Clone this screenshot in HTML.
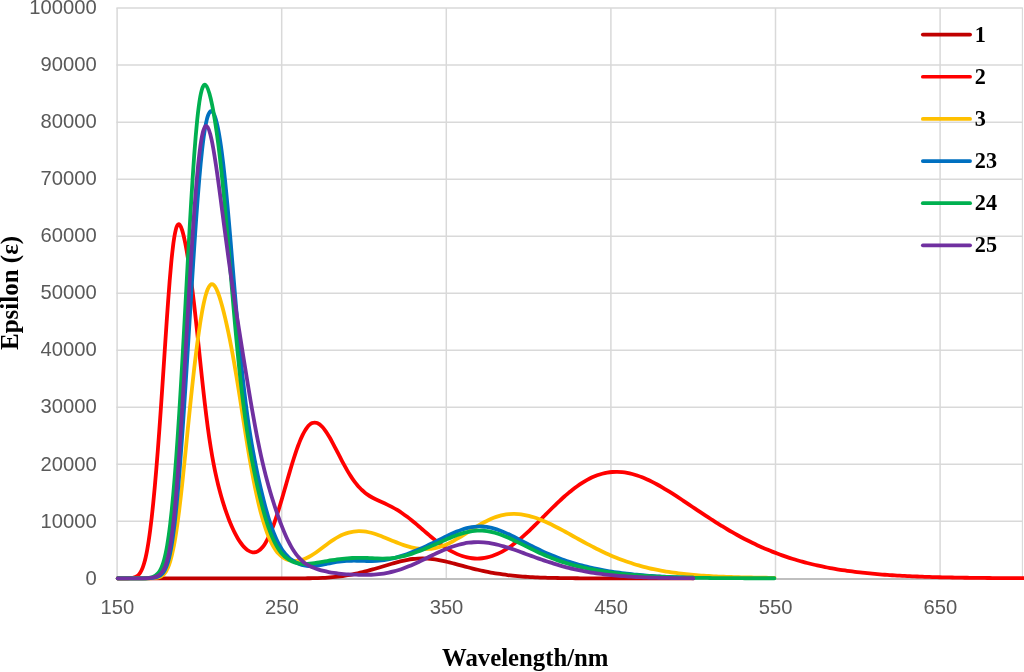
<!DOCTYPE html>
<html lang="en">
<head>
<meta charset="utf-8">
<title>Epsilon vs Wavelength</title>
<style>
html, body { margin: 0; padding: 0; background: #ffffff; }
body { width: 1024px; height: 672px; overflow: hidden; }
svg { display: block; will-change: transform; }
</style>
</head>
<body>
<svg width="1024" height="672" viewBox="0 0 1024 672">
<g stroke="#D9D9D9" stroke-width="1.5" fill="none">
<line x1="116.40" y1="521.28" x2="1022.90" y2="521.28"/>
<line x1="116.40" y1="464.26" x2="1022.90" y2="464.26"/>
<line x1="116.40" y1="407.24" x2="1022.90" y2="407.24"/>
<line x1="116.40" y1="350.22" x2="1022.90" y2="350.22"/>
<line x1="116.40" y1="293.20" x2="1022.90" y2="293.20"/>
<line x1="116.40" y1="236.18" x2="1022.90" y2="236.18"/>
<line x1="116.40" y1="179.16" x2="1022.90" y2="179.16"/>
<line x1="116.40" y1="122.14" x2="1022.90" y2="122.14"/>
<line x1="116.40" y1="65.12" x2="1022.90" y2="65.12"/>
<line x1="116.40" y1="8.10" x2="1022.90" y2="8.10"/>
<line x1="117.10" y1="8.10" x2="117.10" y2="579.00"/>
<line x1="281.70" y1="8.10" x2="281.70" y2="579.00"/>
<line x1="446.30" y1="8.10" x2="446.30" y2="579.00"/>
<line x1="610.90" y1="8.10" x2="610.90" y2="579.00"/>
<line x1="775.50" y1="8.10" x2="775.50" y2="579.00"/>
<line x1="940.10" y1="8.10" x2="940.10" y2="579.00"/>
<line x1="1022.40" y1="8.10" x2="1022.40" y2="579.00" stroke-width="1.1"/>
<line x1="116.40" y1="579.00" x2="1022.90" y2="579.00" stroke="#BFBFBF" stroke-width="2"/>
</g>
<g font-family="'Liberation Sans', Arial, sans-serif" font-size="20.2px" fill="#595959">
<text x="96.7" y="584.80" text-anchor="end">0</text>
<text x="96.7" y="527.68" text-anchor="end">10000</text>
<text x="96.7" y="470.56" text-anchor="end">20000</text>
<text x="96.7" y="413.44" text-anchor="end">30000</text>
<text x="96.7" y="356.32" text-anchor="end">40000</text>
<text x="96.7" y="299.20" text-anchor="end">50000</text>
<text x="96.7" y="242.08" text-anchor="end">60000</text>
<text x="96.7" y="184.96" text-anchor="end">70000</text>
<text x="96.7" y="127.84" text-anchor="end">80000</text>
<text x="96.7" y="70.72" text-anchor="end">90000</text>
<text x="96.7" y="13.60" text-anchor="end">100000</text>
<text x="117.30" y="613.8" text-anchor="middle">150</text>
<text x="281.90" y="613.8" text-anchor="middle">250</text>
<text x="446.50" y="613.8" text-anchor="middle">350</text>
<text x="611.10" y="613.8" text-anchor="middle">450</text>
<text x="775.70" y="613.8" text-anchor="middle">550</text>
<text x="940.30" y="613.8" text-anchor="middle">650</text>
</g>
<g fill="none" stroke-width="3.8" stroke-linecap="round" stroke-linejoin="round">
<path stroke="#C00000" d="M117.70 578.40C119.37 578.40 121.03 578.40 122.70 578.40C124.37 578.40 126.03 578.40 127.70 578.40C129.37 578.40 131.03 578.40 132.70 578.40C134.37 578.40 136.03 578.40 137.70 578.40C139.37 578.40 141.03 578.40 142.70 578.40C144.37 578.40 146.03 578.40 147.70 578.40C149.37 578.40 151.03 578.40 152.70 578.40C154.37 578.40 156.03 578.40 157.70 578.40C159.37 578.40 161.03 578.40 162.70 578.40C164.37 578.40 166.03 578.40 167.70 578.40C169.37 578.40 171.03 578.40 172.70 578.40C174.37 578.40 176.03 578.40 177.70 578.40C179.37 578.40 181.03 578.40 182.70 578.40C184.37 578.40 186.03 578.40 187.70 578.40C189.37 578.40 191.03 578.40 192.70 578.40C194.37 578.40 196.03 578.40 197.70 578.40C199.37 578.40 201.03 578.40 202.70 578.40C204.37 578.40 206.03 578.40 207.70 578.40C209.37 578.40 211.03 578.40 212.70 578.40C214.37 578.40 216.03 578.40 217.70 578.40C219.37 578.40 221.03 578.40 222.70 578.40C224.37 578.40 226.03 578.40 227.70 578.40C229.37 578.40 231.03 578.40 232.70 578.40C234.37 578.40 236.03 578.40 237.70 578.40C239.37 578.40 241.03 578.40 242.70 578.40C244.37 578.40 246.03 578.40 247.70 578.40C249.37 578.40 251.03 578.40 252.70 578.40C254.37 578.40 256.03 578.40 257.70 578.40C259.37 578.40 261.03 578.40 262.70 578.40C264.37 578.40 266.03 578.40 267.70 578.39C269.37 578.39 271.03 578.39 272.70 578.39C274.37 578.39 276.03 578.38 277.70 578.38C279.37 578.38 281.03 578.38 282.70 578.37C284.37 578.37 286.03 578.36 287.70 578.36C289.37 578.35 291.03 578.35 292.70 578.34C294.37 578.34 296.03 578.33 297.70 578.32C299.37 578.31 301.03 578.31 302.70 578.30C304.37 578.28 306.03 578.27 307.70 578.25C309.37 578.24 311.03 578.22 312.70 578.19C314.37 578.16 316.03 578.12 317.70 578.07C319.37 578.03 321.03 577.97 322.70 577.89C324.37 577.82 326.03 577.73 327.70 577.62C329.37 577.51 331.03 577.38 332.70 577.23C334.37 577.08 336.03 576.91 337.70 576.71C339.37 576.51 341.03 576.29 342.70 576.05C344.37 575.81 346.03 575.54 347.70 575.25C349.37 574.96 351.03 574.65 352.70 574.32C354.37 573.98 356.03 573.63 357.70 573.26C359.37 572.89 361.03 572.50 362.70 572.09C364.37 571.68 366.03 571.26 367.70 570.82C369.37 570.38 371.03 569.92 372.70 569.45C374.37 568.98 376.03 568.50 377.70 568.00C379.37 567.51 381.03 567.01 382.70 566.50C384.37 565.99 386.03 565.48 387.70 564.97C389.37 564.47 391.03 563.96 392.70 563.47C394.37 562.99 396.03 562.51 397.70 562.06C399.37 561.61 401.03 561.19 402.70 560.80C404.37 560.42 406.03 560.07 407.70 559.76C409.37 559.46 411.03 559.20 412.70 558.99C414.37 558.78 416.03 558.63 417.70 558.53C419.37 558.43 421.03 558.39 422.70 558.40C424.37 558.41 426.03 558.47 427.70 558.59C429.37 558.71 431.03 558.87 432.70 559.09C434.37 559.30 436.03 559.56 437.70 559.85C439.37 560.15 441.03 560.48 442.70 560.84C444.37 561.20 446.03 561.58 447.70 561.99C449.37 562.40 451.03 562.82 452.70 563.26C454.37 563.69 456.03 564.14 457.70 564.59C459.37 565.03 461.03 565.49 462.70 565.94C464.37 566.38 466.03 566.83 467.70 567.27C469.37 567.70 471.03 568.13 472.70 568.55C474.37 568.97 476.03 569.37 477.70 569.77C479.37 570.16 481.03 570.53 482.70 570.89C484.37 571.26 486.03 571.60 487.70 571.93C489.37 572.26 491.03 572.57 492.70 572.87C494.37 573.16 496.03 573.44 497.70 573.70C499.37 573.97 501.03 574.21 502.70 574.44C504.37 574.67 506.03 574.89 507.70 575.09C509.37 575.29 511.03 575.48 512.70 575.65C514.37 575.83 516.03 575.99 517.70 576.13C519.37 576.28 521.03 576.42 522.70 576.54C524.37 576.67 526.03 576.78 527.70 576.89C529.37 577.00 531.03 577.09 532.70 577.18C534.37 577.27 536.03 577.35 537.70 577.42C539.37 577.49 541.03 577.56 542.70 577.62C544.37 577.68 546.03 577.73 547.70 577.78C549.37 577.83 551.03 577.87 552.70 577.91C554.37 577.95 556.03 577.98 557.70 578.02C559.37 578.05 561.03 578.07 562.70 578.10C564.37 578.12 566.03 578.15 567.70 578.17C569.37 578.19 571.03 578.20 572.70 578.22C574.37 578.24 576.03 578.25 577.70 578.26C579.37 578.27 581.03 578.28 582.70 578.29C584.37 578.30 586.03 578.31 587.70 578.32C589.37 578.33 591.03 578.33 592.70 578.34C594.37 578.34 596.03 578.35 597.70 578.35C599.37 578.36 601.03 578.36 602.70 578.37C604.37 578.37 606.03 578.37 607.70 578.37C609.37 578.38 611.03 578.38 612.70 578.38C614.37 578.38 616.03 578.38 617.70 578.39C619.37 578.39 621.03 578.39 622.70 578.39C624.37 578.39 626.03 578.39 627.70 578.39C629.37 578.39 631.03 578.39 632.70 578.39C634.37 578.39 636.03 578.40 637.70 578.40C639.37 578.40 641.03 578.40 642.70 578.40C644.37 578.40 646.03 578.40 647.70 578.40C649.37 578.40 651.03 578.40 652.70 578.40C654.37 578.40 656.03 578.40 657.70 578.40C659.37 578.40 661.03 578.40 662.70 578.40C664.37 578.40 666.03 578.40 667.70 578.40C669.37 578.40 671.03 578.40 672.70 578.40C674.37 578.40 676.03 578.40 677.70 578.40C679.37 578.40 681.03 578.40 682.70 578.40C684.37 578.40 686.03 578.40 687.70 578.40C689.37 578.40 691.03 578.40 692.70 578.40C692.90 578.40 693.10 578.40 693.30 578.40"/>
<path stroke="#FF0000" d="M117.70 578.32C119.37 578.39 121.03 578.34 122.70 578.32C124.37 578.30 126.03 578.28 127.70 578.23C129.37 578.18 131.03 578.12 132.70 577.83C134.37 577.54 136.03 577.03 137.70 575.65C138.53 574.96 139.37 574.04 140.20 572.75C141.03 571.47 141.87 569.81 142.70 567.63C143.20 566.32 143.70 564.82 144.20 563.09C144.70 561.37 145.20 559.42 145.70 557.22C146.20 555.01 146.70 552.56 147.20 549.83C147.70 547.10 148.20 544.09 148.70 540.80C149.20 537.51 149.70 533.93 150.20 530.07C150.70 526.20 151.20 522.05 151.70 517.61C152.20 513.18 152.70 508.47 153.20 503.48C153.70 498.50 154.20 493.25 154.70 487.75C155.20 482.25 155.70 476.49 156.20 470.51C156.70 464.52 157.20 458.30 157.70 451.87C158.20 445.43 158.70 438.78 159.20 431.95C159.70 425.11 160.20 418.08 160.70 410.90C161.20 403.72 161.70 396.38 162.20 388.94C162.70 381.50 163.20 373.96 163.70 366.39C164.20 358.81 164.70 351.21 165.20 343.67C165.70 336.13 166.20 328.65 166.70 321.34C167.20 314.03 167.70 306.90 168.20 300.05C168.70 293.20 169.20 286.63 169.70 280.47C170.20 274.30 170.70 268.53 171.20 263.25C171.70 257.96 172.20 253.16 172.70 248.91C173.20 244.66 173.70 240.96 174.20 237.82C174.70 234.68 175.20 232.11 175.70 230.09C176.20 228.08 176.70 226.61 177.20 225.66C178.03 224.06 178.87 223.87 179.70 224.77C180.53 225.67 181.37 227.65 182.20 230.36C182.70 231.99 183.20 233.89 183.70 236.00C184.20 238.12 184.70 240.44 185.20 242.95C185.70 245.46 186.20 248.14 186.70 250.98C187.20 253.82 187.70 256.83 188.20 259.98C188.70 263.14 189.20 266.45 189.70 269.91C190.20 273.37 190.70 276.98 191.20 280.75C191.70 284.51 192.20 288.43 192.70 292.49C193.20 296.55 193.70 300.76 194.20 305.09C194.70 309.42 195.20 313.88 195.70 318.44C196.20 323.00 196.70 327.66 197.20 332.38C197.70 337.10 198.20 341.88 198.70 346.69C199.20 351.49 199.70 356.31 200.20 361.11C200.70 365.91 201.20 370.68 201.70 375.39C202.20 380.10 202.70 384.74 203.20 389.28C203.70 393.82 204.20 398.25 204.70 402.56C205.20 406.87 205.70 411.05 206.20 415.08C206.70 419.12 207.20 423.00 207.70 426.74C208.20 430.47 208.70 434.05 209.20 437.48C209.70 440.90 210.20 444.18 210.70 447.31C211.20 450.43 211.70 453.42 212.20 456.27C212.70 459.12 213.20 461.83 213.70 464.43C214.20 467.03 214.70 469.50 215.20 471.88C215.70 474.25 216.20 476.52 216.70 478.71C217.20 480.89 217.70 482.98 218.20 485.00C218.70 487.01 219.20 488.95 219.70 490.83C220.20 492.71 220.70 494.52 221.20 496.27C221.70 498.02 222.20 499.72 222.70 501.37C223.20 503.01 223.70 504.61 224.20 506.16C224.70 507.71 225.20 509.22 225.70 510.68C226.20 512.15 226.70 513.57 227.20 514.95C227.70 516.33 228.20 517.67 228.70 518.97C229.20 520.27 229.70 521.54 230.20 522.76C231.03 524.80 231.87 526.73 232.70 528.56C233.53 530.39 234.37 532.11 235.20 533.73C236.03 535.35 236.87 536.87 237.70 538.28C238.53 539.69 239.37 541.00 240.20 542.20C241.03 543.41 241.87 544.51 242.70 545.51C243.53 546.51 244.37 547.40 245.20 548.19C246.03 548.98 246.87 549.66 247.70 550.23C249.37 551.38 251.03 552.09 252.70 552.30C254.37 552.51 256.03 552.23 257.70 551.36C259.37 550.50 261.03 549.06 262.70 547.00C263.53 545.96 264.37 544.78 265.20 543.43C266.03 542.09 266.87 540.59 267.70 538.95C268.53 537.30 269.37 535.50 270.20 533.56C271.03 531.62 271.87 529.54 272.70 527.34C273.20 526.02 273.70 524.65 274.20 523.24C274.70 521.83 275.20 520.38 275.70 518.89C276.20 517.41 276.70 515.88 277.20 514.33C277.70 512.77 278.20 511.18 278.70 509.57C279.20 507.95 279.70 506.31 280.20 504.65C280.70 502.98 281.20 501.30 281.70 499.60C282.20 497.89 282.70 496.18 283.20 494.45C283.70 492.72 284.20 490.98 284.70 489.24C285.20 487.50 285.70 485.75 286.20 484.01C286.70 482.26 287.20 480.52 287.70 478.78C288.20 477.05 288.70 475.32 289.20 473.60C289.70 471.89 290.20 470.19 290.70 468.51C291.20 466.83 291.70 465.17 292.20 463.54C292.70 461.90 293.20 460.29 293.70 458.72C294.20 457.14 294.70 455.59 295.20 454.09C295.70 452.58 296.20 451.11 296.70 449.68C297.20 448.25 297.70 446.86 298.20 445.53C298.70 444.19 299.20 442.90 299.70 441.66C300.53 439.59 301.37 437.67 302.20 435.91C303.03 434.14 303.87 432.54 304.70 431.12C305.53 429.69 306.37 428.43 307.20 427.36C308.03 426.29 308.87 425.39 309.70 424.68C310.53 423.97 311.37 423.44 312.20 423.09C313.87 422.39 315.53 422.41 317.20 423.07C318.87 423.72 320.53 425.01 322.20 426.79C323.03 427.68 323.87 428.69 324.70 429.80C325.53 430.92 326.37 432.14 327.20 433.44C328.03 434.73 328.87 436.11 329.70 437.56C330.53 439.00 331.37 440.50 332.20 442.04C333.03 443.58 333.87 445.16 334.70 446.76C335.53 448.36 336.37 449.99 337.20 451.61C338.03 453.24 338.87 454.87 339.70 456.48C340.53 458.10 341.37 459.70 342.20 461.28C343.03 462.85 343.87 464.41 344.70 465.92C345.53 467.43 346.37 468.91 347.20 470.34C348.03 471.77 348.87 473.15 349.70 474.48C350.53 475.81 351.37 477.09 352.20 478.31C353.03 479.53 353.87 480.70 354.70 481.81C355.53 482.92 356.37 483.97 357.20 484.96C358.03 485.95 358.87 486.89 359.70 487.77C360.53 488.65 361.37 489.47 362.20 490.25C363.03 491.03 363.87 491.75 364.70 492.43C365.53 493.11 366.37 493.74 367.20 494.34C368.87 495.53 370.53 496.56 372.20 497.50C373.87 498.43 375.53 499.27 377.20 500.06C378.87 500.85 380.53 501.60 382.20 502.35C383.87 503.10 385.53 503.85 387.20 504.64C388.87 505.43 390.53 506.26 392.20 507.14C393.87 508.03 395.53 508.98 397.20 509.99C398.87 511.00 400.53 512.08 402.20 513.22C403.87 514.36 405.53 515.57 407.20 516.83C408.87 518.09 410.53 519.40 412.20 520.76C413.03 521.43 413.87 522.12 414.70 522.81C415.53 523.51 416.37 524.21 417.20 524.92C418.03 525.62 418.87 526.34 419.70 527.05C420.53 527.77 421.37 528.49 422.20 529.21C423.03 529.92 423.87 530.64 424.70 531.36C425.53 532.08 426.37 532.79 427.20 533.51C428.03 534.22 428.87 534.93 429.70 535.63C430.53 536.33 431.37 537.02 432.20 537.71C433.03 538.40 433.87 539.08 434.70 539.74C435.53 540.41 436.37 541.07 437.20 541.71C438.87 543.01 440.53 544.25 442.20 545.43C443.87 546.61 445.53 547.72 447.20 548.77C448.87 549.82 450.53 550.79 452.20 551.68C453.87 552.58 455.53 553.39 457.20 554.12C458.87 554.85 460.53 555.49 462.20 556.04C463.87 556.59 465.53 557.06 467.20 557.43C468.87 557.80 470.53 558.08 472.20 558.26C473.87 558.45 475.53 558.54 477.20 558.54C478.87 558.54 480.53 558.44 482.20 558.25C483.87 558.06 485.53 557.77 487.20 557.39C488.87 557.02 490.53 556.55 492.20 555.99C493.87 555.43 495.53 554.77 497.20 554.03C498.87 553.30 500.53 552.47 502.20 551.56C503.87 550.65 505.53 549.66 507.20 548.59C508.87 547.53 510.53 546.38 512.20 545.17C513.87 543.95 515.53 542.67 517.20 541.33C518.03 540.66 518.87 539.97 519.70 539.27C520.53 538.57 521.37 537.86 522.20 537.13C523.03 536.40 523.87 535.66 524.70 534.91C525.53 534.16 526.37 533.40 527.20 532.63C528.03 531.86 528.87 531.08 529.70 530.29C530.53 529.50 531.37 528.70 532.20 527.90C533.03 527.09 533.87 526.28 534.70 525.46C535.53 524.64 536.37 523.82 537.20 522.99C538.03 522.17 538.87 521.34 539.70 520.50C540.53 519.67 541.37 518.83 542.20 518.00C543.03 517.16 543.87 516.32 544.70 515.49C545.53 514.65 546.37 513.81 547.20 512.98C548.03 512.14 548.87 511.31 549.70 510.48C550.53 509.66 551.37 508.83 552.20 508.01C553.03 507.19 553.87 506.38 554.70 505.57C555.53 504.76 556.37 503.96 557.20 503.16C558.03 502.37 558.87 501.58 559.70 500.80C560.53 500.02 561.37 499.25 562.20 498.50C563.03 497.74 563.87 496.99 564.70 496.25C565.53 495.52 566.37 494.79 567.20 494.08C568.03 493.36 568.87 492.66 569.70 491.98C570.53 491.29 571.37 490.62 572.20 489.96C573.87 488.64 575.53 487.38 577.20 486.18C578.87 484.99 580.53 483.86 582.20 482.80C583.87 481.74 585.53 480.76 587.20 479.84C588.87 478.93 590.53 478.09 592.20 477.33C593.87 476.57 595.53 475.89 597.20 475.28C598.87 474.68 600.53 474.16 602.20 473.71C603.87 473.27 605.53 472.91 607.20 472.62C608.87 472.34 610.53 472.14 612.20 472.01C613.87 471.88 615.53 471.83 617.20 471.86C618.87 471.88 620.53 471.98 622.20 472.15C623.87 472.32 625.53 472.57 627.20 472.88C628.87 473.18 630.53 473.56 632.20 474.00C633.87 474.43 635.53 474.93 637.20 475.49C638.87 476.05 640.53 476.66 642.20 477.32C643.87 477.98 645.53 478.70 647.20 479.45C648.87 480.21 650.53 481.02 652.20 481.86C653.87 482.70 655.53 483.58 657.20 484.50C658.87 485.41 660.53 486.36 662.20 487.33C663.87 488.31 665.53 489.31 667.20 490.33C668.87 491.35 670.53 492.40 672.20 493.46C673.87 494.52 675.53 495.60 677.20 496.69C678.87 497.78 680.53 498.89 682.20 499.99C683.87 501.10 685.53 502.22 687.20 503.34C688.87 504.46 690.53 505.58 692.20 506.71C693.87 507.83 695.53 508.95 697.20 510.07C698.87 511.19 700.53 512.30 702.20 513.41C703.87 514.52 705.53 515.62 707.20 516.71C708.87 517.81 710.53 518.89 712.20 519.96C713.87 521.03 715.53 522.09 717.20 523.14C718.87 524.19 720.53 525.22 722.20 526.24C723.87 527.26 725.53 528.27 727.20 529.25C728.87 530.24 730.53 531.22 732.20 532.17C733.87 533.13 735.53 534.07 737.20 534.99C738.87 535.91 740.53 536.81 742.20 537.70C743.87 538.59 745.53 539.45 747.20 540.30C748.87 541.15 750.53 541.98 752.20 542.79C753.87 543.60 755.53 544.40 757.20 545.17C758.87 545.94 760.53 546.70 762.20 547.44C763.87 548.17 765.53 548.89 767.20 549.59C768.87 550.29 770.53 550.97 772.20 551.63C773.87 552.29 775.53 552.94 777.20 553.56C778.87 554.19 780.53 554.80 782.20 555.39C783.87 555.98 785.53 556.55 787.20 557.11C788.87 557.67 790.53 558.20 792.20 558.73C793.87 559.25 795.53 559.76 797.20 560.25C798.87 560.74 800.53 561.21 802.20 561.67C803.87 562.13 805.53 562.57 807.20 563.00C808.87 563.43 810.53 563.84 812.20 564.25C813.87 564.65 815.53 565.03 817.20 565.40C818.87 565.78 820.53 566.14 822.20 566.48C823.87 566.83 825.53 567.16 827.20 567.49C828.87 567.81 830.53 568.12 832.20 568.42C833.87 568.71 835.53 569.00 837.20 569.28C838.87 569.55 840.53 569.82 842.20 570.07C843.87 570.33 845.53 570.57 847.20 570.81C848.87 571.04 850.53 571.27 852.20 571.48C853.87 571.70 855.53 571.91 857.20 572.11C858.87 572.31 860.53 572.50 862.20 572.68C863.87 572.86 865.53 573.04 867.20 573.21C868.87 573.38 870.53 573.54 872.20 573.69C873.87 573.84 875.53 573.99 877.20 574.13C878.87 574.27 880.53 574.41 882.20 574.54C883.87 574.66 885.53 574.79 887.20 574.90C888.87 575.02 890.53 575.13 892.20 575.24C893.87 575.35 895.53 575.45 897.20 575.55C898.87 575.64 900.53 575.74 902.20 575.83C903.87 575.91 905.53 576.00 907.20 576.08C908.87 576.16 910.53 576.24 912.20 576.31C913.87 576.38 915.53 576.45 917.20 576.52C918.87 576.58 920.53 576.65 922.20 576.71C923.87 576.77 925.53 576.82 927.20 576.88C928.87 576.93 930.53 576.98 932.20 577.03C933.87 577.08 935.53 577.13 937.20 577.17C938.87 577.22 940.53 577.26 942.20 577.30C943.87 577.34 945.53 577.38 947.20 577.41C948.87 577.45 950.53 577.48 952.20 577.51C953.87 577.55 955.53 577.58 957.20 577.61C958.87 577.64 960.53 577.66 962.20 577.69C963.87 577.72 965.53 577.74 967.20 577.76C968.87 577.79 970.53 577.81 972.20 577.83C973.87 577.85 975.53 577.87 977.20 577.89C978.87 577.91 980.53 577.93 982.20 577.95C983.87 577.96 985.53 577.98 987.20 577.99C988.87 578.01 990.53 578.02 992.20 578.04C993.87 578.05 995.53 578.06 997.20 578.08C998.87 578.09 1000.53 578.10 1002.20 578.11C1003.87 578.12 1005.53 578.13 1007.20 578.14C1008.87 578.15 1010.53 578.16 1012.20 578.17C1013.87 578.18 1015.53 578.19 1017.20 578.20C1018.87 578.20 1020.53 578.21 1022.20 578.22C1023.87 578.22 1025.53 578.23 1027.20 578.24C1027.98 578.24 1028.75 578.24 1029.53 578.25"/>
<path stroke="#FFC000" d="M117.70 578.33C119.37 578.40 121.03 578.40 122.70 578.40C124.37 578.40 126.03 578.40 127.70 578.40C129.37 578.40 131.03 578.40 132.70 578.40C134.37 578.40 136.03 578.39 137.70 578.39C139.37 578.38 141.03 578.38 142.70 578.36C144.37 578.35 146.03 578.34 147.70 578.32C149.37 578.31 151.03 578.29 152.70 578.22C154.37 578.15 156.03 578.04 157.70 577.68C159.37 577.33 161.03 576.73 162.70 575.38C163.53 574.70 164.37 573.83 165.20 572.67C166.03 571.51 166.87 570.05 167.70 568.21C168.53 566.36 169.37 564.11 170.20 561.37C170.70 559.73 171.20 557.90 171.70 555.88C172.20 553.86 172.70 551.65 173.20 549.23C173.70 546.80 174.20 544.17 174.70 541.33C175.20 538.49 175.70 535.43 176.20 532.16C176.70 528.90 177.20 525.42 177.70 521.74C178.20 518.07 178.70 514.20 179.20 510.14C179.70 506.09 180.20 501.86 180.70 497.48C181.20 493.10 181.70 488.57 182.20 483.92C182.70 479.27 183.20 474.51 183.70 469.66C184.20 464.82 184.70 459.90 185.20 454.94C185.70 449.98 186.20 444.98 186.70 439.97C187.20 434.97 187.70 429.97 188.20 425.00C188.70 420.02 189.20 415.08 189.70 410.21C190.20 405.33 190.70 400.51 191.20 395.78C191.70 391.05 192.20 386.40 192.70 381.85C193.20 377.31 193.70 372.87 194.20 368.54C194.70 364.22 195.20 360.01 195.70 355.94C196.20 351.86 196.70 347.91 197.20 344.10C197.70 340.30 198.20 336.63 198.70 333.12C199.20 329.60 199.70 326.24 200.20 323.05C200.70 319.85 201.20 316.82 201.70 313.97C202.20 311.12 202.70 308.45 203.20 305.97C203.70 303.50 204.20 301.22 204.70 299.14C205.20 297.06 205.70 295.20 206.20 293.54C206.70 291.89 207.20 290.46 207.70 289.24C208.53 287.22 209.37 285.81 210.20 285.01C211.03 284.20 211.87 284.00 212.70 284.34C214.37 285.02 216.03 287.86 217.70 292.07C218.20 293.33 218.70 294.72 219.20 296.21C219.70 297.70 220.20 299.29 220.70 300.97C221.20 302.65 221.70 304.42 222.20 306.26C222.70 308.11 223.20 310.02 223.70 312.01C224.20 314.00 224.70 316.05 225.20 318.17C225.70 320.28 226.20 322.46 226.70 324.71C227.20 326.95 227.70 329.26 228.20 331.63C228.70 334.00 229.20 336.43 229.70 338.93C230.20 341.43 230.70 343.99 231.20 346.62C231.70 349.24 232.20 351.93 232.70 354.68C233.20 357.44 233.70 360.25 234.20 363.12C234.70 365.99 235.20 368.92 235.70 371.90C236.20 374.88 236.70 377.91 237.20 380.99C237.70 384.06 238.20 387.17 238.70 390.31C239.20 393.45 239.70 396.62 240.20 399.81C240.70 403.00 241.20 406.20 241.70 409.41C242.20 412.62 242.70 415.83 243.20 419.03C243.70 422.23 244.20 425.41 244.70 428.58C245.20 431.74 245.70 434.88 246.20 437.99C246.70 441.10 247.20 444.17 247.70 447.19C248.20 450.22 248.70 453.20 249.20 456.12C249.70 459.05 250.20 461.92 250.70 464.73C251.20 467.55 251.70 470.30 252.20 472.99C252.70 475.68 253.20 478.30 253.70 480.86C254.20 483.41 254.70 485.90 255.20 488.32C255.70 490.73 256.20 493.08 256.70 495.36C257.20 497.64 257.70 499.84 258.20 501.98C258.70 504.12 259.20 506.18 259.70 508.18C260.20 510.17 260.70 512.10 261.20 513.95C261.70 515.81 262.20 517.59 262.70 519.31C263.20 521.03 263.70 522.68 264.20 524.27C264.70 525.85 265.20 527.37 265.70 528.83C266.20 530.28 266.70 531.67 267.20 533.00C267.70 534.33 268.20 535.60 268.70 536.80C269.53 538.81 270.37 540.66 271.20 542.35C272.03 544.04 272.87 545.58 273.70 546.97C274.53 548.37 275.37 549.63 276.20 550.76C277.03 551.89 277.87 552.90 278.70 553.79C279.53 554.69 280.37 555.47 281.20 556.17C282.03 556.86 282.87 557.45 283.70 557.97C285.37 559.00 287.03 559.71 288.70 560.19C290.37 560.67 292.03 560.91 293.70 560.97C295.37 561.02 297.03 560.89 298.70 560.60C300.37 560.31 302.03 559.85 303.70 559.24C305.37 558.63 307.03 557.87 308.70 556.98C310.37 556.09 312.03 555.08 313.70 553.97C315.37 552.86 317.03 551.67 318.70 550.44C320.37 549.20 322.03 547.93 323.70 546.67C325.37 545.41 327.03 544.17 328.70 542.97C330.37 541.78 332.03 540.64 333.70 539.58C335.37 538.52 337.03 537.55 338.70 536.67C340.37 535.79 342.03 535.01 343.70 534.33C345.37 533.66 347.03 533.09 348.70 532.63C350.37 532.17 352.03 531.82 353.70 531.58C355.37 531.34 357.03 531.21 358.70 531.18C360.37 531.16 362.03 531.24 363.70 531.42C365.37 531.60 367.03 531.88 368.70 532.24C370.37 532.60 372.03 533.04 373.70 533.55C375.37 534.06 377.03 534.64 378.70 535.26C380.37 535.87 382.03 536.53 383.70 537.21C385.37 537.89 387.03 538.59 388.70 539.29C390.37 539.99 392.03 540.68 393.70 541.36C395.37 542.04 397.03 542.71 398.70 543.33C400.37 543.96 402.03 544.56 403.70 545.11C405.37 545.67 407.03 546.17 408.70 546.63C410.37 547.08 412.03 547.48 413.70 547.82C415.37 548.16 417.03 548.43 418.70 548.63C420.37 548.84 422.03 548.97 423.70 549.02C425.37 549.07 427.03 549.04 428.70 548.92C430.37 548.81 432.03 548.60 433.70 548.32C435.37 548.03 437.03 547.65 438.70 547.19C440.37 546.72 442.03 546.17 443.70 545.54C445.37 544.91 447.03 544.19 448.70 543.41C450.37 542.63 452.03 541.77 453.70 540.86C455.37 539.95 457.03 538.98 458.70 537.98C460.37 536.97 462.03 535.93 463.70 534.87C465.37 533.81 467.03 532.73 468.70 531.65C470.37 530.57 472.03 529.50 473.70 528.44C475.37 527.39 477.03 526.35 478.70 525.36C480.37 524.37 482.03 523.41 483.70 522.51C485.37 521.61 487.03 520.76 488.70 519.98C490.37 519.20 492.03 518.48 493.70 517.84C495.37 517.20 497.03 516.63 498.70 516.14C500.37 515.65 502.03 515.24 503.70 514.91C505.37 514.58 507.03 514.34 508.70 514.17C510.37 514.00 512.03 513.92 513.70 513.91C515.37 513.90 517.03 513.97 518.70 514.12C520.37 514.26 522.03 514.48 523.70 514.76C525.37 515.05 527.03 515.40 528.70 515.82C530.37 516.23 532.03 516.70 533.70 517.23C535.37 517.76 537.03 518.34 538.70 518.97C540.37 519.60 542.03 520.28 543.70 520.99C545.37 521.70 547.03 522.46 548.70 523.24C550.37 524.02 552.03 524.84 553.70 525.68C555.37 526.52 557.03 527.38 558.70 528.26C560.37 529.14 562.03 530.04 563.70 530.94C565.37 531.85 567.03 532.77 568.70 533.69C570.37 534.61 572.03 535.54 573.70 536.47C575.37 537.39 577.03 538.32 578.70 539.24C580.37 540.16 582.03 541.08 583.70 541.98C585.37 542.89 587.03 543.78 588.70 544.67C590.37 545.55 592.03 546.42 593.70 547.28C595.37 548.13 597.03 548.97 598.70 549.79C600.37 550.61 602.03 551.41 603.70 552.20C605.37 552.98 607.03 553.74 608.70 554.48C610.37 555.22 612.03 555.94 613.70 556.64C615.37 557.34 617.03 558.02 618.70 558.67C620.37 559.32 622.03 559.96 623.70 560.56C625.37 561.17 627.03 561.76 628.70 562.32C630.37 562.89 632.03 563.43 633.70 563.95C635.37 564.47 637.03 564.96 638.70 565.44C640.37 565.92 642.03 566.37 643.70 566.81C645.37 567.25 647.03 567.66 648.70 568.06C650.37 568.45 652.03 568.83 653.70 569.19C655.37 569.55 657.03 569.89 658.70 570.21C660.37 570.54 662.03 570.84 663.70 571.14C665.37 571.43 667.03 571.70 668.70 571.96C670.37 572.22 672.03 572.47 673.70 572.70C675.37 572.94 677.03 573.16 678.70 573.37C680.37 573.57 682.03 573.77 683.70 573.95C685.37 574.14 687.03 574.31 688.70 574.47C690.37 574.64 692.03 574.79 693.70 574.93C695.37 575.08 697.03 575.21 698.70 575.34C700.37 575.47 702.03 575.59 703.70 575.70C705.37 575.81 707.03 575.92 708.70 576.01C710.37 576.11 712.03 576.20 713.70 576.29C715.37 576.38 717.03 576.46 718.70 576.53C720.37 576.61 722.03 576.68 723.70 576.75C725.37 576.81 727.03 576.87 728.70 576.93C730.37 576.99 732.03 577.04 733.70 577.09C735.37 577.14 737.03 577.19 738.70 577.24C740.37 577.28 742.03 577.32 743.70 577.36C745.37 577.40 747.03 577.44 748.70 577.47C750.37 577.50 752.03 577.54 753.70 577.57C755.37 577.60 757.03 577.62 758.70 577.65C760.37 577.68 762.03 577.70 763.70 577.72C765.37 577.75 767.03 577.77 768.70 577.79C770.37 577.81 772.03 577.83 773.70 577.85C773.93 577.85 774.17 577.85 774.40 577.86"/>
<path stroke="#0070C0" d="M117.70 578.34C119.37 578.40 121.03 578.40 122.70 578.40C124.37 578.40 126.03 578.40 127.70 578.40C129.37 578.40 131.03 578.40 132.70 578.40C134.37 578.40 136.03 578.40 137.70 578.40C139.37 578.40 141.03 578.39 142.70 578.38C144.37 578.37 146.03 578.35 147.70 578.29C149.37 578.23 151.03 578.13 152.70 577.93C154.37 577.72 156.03 577.43 157.70 576.80C159.37 576.17 161.03 575.24 162.70 573.29C163.53 572.32 164.37 571.08 165.20 569.42C166.03 567.76 166.87 565.68 167.70 563.00C168.20 561.39 168.70 559.56 169.20 557.48C169.70 555.40 170.20 553.07 170.70 550.45C171.20 547.83 171.70 544.92 172.20 541.69C172.70 538.47 173.20 534.93 173.70 531.06C174.20 527.20 174.70 523.01 175.20 518.48C175.70 513.96 176.20 509.10 176.70 503.93C177.20 498.76 177.70 493.27 178.20 487.48C178.70 481.69 179.20 475.61 179.70 469.26C180.20 462.91 180.70 456.29 181.20 449.45C181.70 442.61 182.20 435.54 182.70 428.29C183.20 421.03 183.70 413.59 184.20 406.00C184.70 398.42 185.20 390.69 185.70 382.86C186.20 375.03 186.70 367.09 187.20 359.10C187.70 351.11 188.20 343.05 188.70 334.98C189.20 326.91 189.70 318.83 190.20 310.77C190.70 302.71 191.20 294.69 191.70 286.74C192.20 278.78 192.70 270.91 193.20 263.17C193.70 255.43 194.20 247.82 194.70 240.39C195.20 232.96 195.70 225.72 196.20 218.71C196.70 211.71 197.20 204.94 197.70 198.47C198.20 191.99 198.70 185.81 199.20 179.96C199.70 174.11 200.20 168.59 200.70 163.44C201.20 158.29 201.70 153.50 202.20 149.11C202.70 144.71 203.20 140.70 203.70 137.09C204.20 133.48 204.70 130.26 205.20 127.43C205.70 124.60 206.20 122.17 206.70 120.10C207.20 118.04 207.70 116.35 208.20 115.02C208.70 113.69 209.20 112.71 209.70 112.05C210.53 110.97 211.37 110.80 212.20 111.44C213.87 112.72 215.53 117.20 217.20 124.56C217.70 126.77 218.20 129.24 218.70 131.98C219.20 134.71 219.70 137.70 220.20 140.96C220.70 144.21 221.20 147.73 221.70 151.50C222.20 155.27 222.70 159.29 223.20 163.56C223.70 167.83 224.20 172.34 224.70 177.07C225.20 181.80 225.70 186.76 226.20 191.91C226.70 197.06 227.20 202.41 227.70 207.92C228.20 213.43 228.70 219.09 229.20 224.88C229.70 230.66 230.20 236.56 230.70 242.53C231.20 248.50 231.70 254.55 232.20 260.61C232.70 266.67 233.20 272.76 233.70 278.82C234.20 284.87 234.70 290.91 235.20 296.87C235.70 302.84 236.20 308.74 236.70 314.53C237.20 320.32 237.70 326.01 238.20 331.56C238.70 337.11 239.20 342.53 239.70 347.80C240.20 353.06 240.70 358.17 241.20 363.11C241.70 368.05 242.20 372.83 242.70 377.43C243.20 382.04 243.70 386.47 244.20 390.74C244.70 395.01 245.20 399.11 245.70 403.05C246.20 406.99 246.70 410.78 247.20 414.42C247.70 418.06 248.20 421.55 248.70 424.92C249.20 428.28 249.70 431.52 250.20 434.64C250.70 437.77 251.20 440.78 251.70 443.69C252.20 446.60 252.70 449.42 253.20 452.15C253.70 454.88 254.20 457.53 254.70 460.11C255.20 462.69 255.70 465.20 256.20 467.65C256.70 470.09 257.20 472.48 257.70 474.81C258.20 477.15 258.70 479.43 259.20 481.66C259.70 483.89 260.20 486.07 260.70 488.20C261.20 490.34 261.70 492.42 262.20 494.47C262.70 496.51 263.20 498.50 263.70 500.45C264.20 502.40 264.70 504.31 265.20 506.16C265.70 508.01 266.20 509.82 266.70 511.58C267.20 513.34 267.70 515.04 268.20 516.70C268.70 518.36 269.20 519.96 269.70 521.52C270.20 523.07 270.70 524.57 271.20 526.02C271.70 527.47 272.20 528.86 272.70 530.21C273.20 531.55 273.70 532.84 274.20 534.07C275.03 536.13 275.87 538.05 276.70 539.83C277.53 541.61 278.37 543.25 279.20 544.76C280.03 546.28 280.87 547.67 281.70 548.95C282.53 550.23 283.37 551.40 284.20 552.47C285.03 553.54 285.87 554.52 286.70 555.41C287.53 556.30 288.37 557.12 289.20 557.86C290.03 558.60 290.87 559.27 291.70 559.89C293.37 561.11 295.03 562.10 296.70 562.91C298.37 563.71 300.03 564.34 301.70 564.80C303.37 565.27 305.03 565.59 306.70 565.78C308.37 565.96 310.03 566.02 311.70 565.98C313.37 565.94 315.03 565.80 316.70 565.59C318.37 565.38 320.03 565.10 321.70 564.80C323.37 564.49 325.03 564.16 326.70 563.82C328.37 563.48 330.03 563.14 331.70 562.83C333.37 562.51 335.03 562.22 336.70 561.96C338.37 561.71 340.03 561.49 341.70 561.31C343.37 561.13 345.03 561.00 346.70 560.90C348.37 560.81 350.03 560.75 351.70 560.73C353.37 560.71 355.03 560.71 356.70 560.74C358.37 560.77 360.03 560.81 361.70 560.86C363.37 560.91 365.03 560.95 366.70 560.98C368.37 561.02 370.03 561.03 371.70 561.01C373.37 560.99 375.03 560.94 376.70 560.85C378.37 560.76 380.03 560.62 381.70 560.43C383.37 560.24 385.03 560.00 386.70 559.71C388.37 559.42 390.03 559.08 391.70 558.70C393.37 558.31 395.03 557.88 396.70 557.41C398.37 556.94 400.03 556.43 401.70 555.88C403.37 555.34 405.03 554.77 406.70 554.16C408.37 553.56 410.03 552.94 411.70 552.29C413.37 551.64 415.03 550.97 416.70 550.28C418.37 549.58 420.03 548.87 421.70 548.14C423.37 547.41 425.03 546.66 426.70 545.90C428.37 545.13 430.03 544.34 431.70 543.54C433.37 542.74 435.03 541.93 436.70 541.11C438.37 540.29 440.03 539.46 441.70 538.63C443.37 537.80 445.03 536.98 446.70 536.17C448.37 535.36 450.03 534.56 451.70 533.80C453.37 533.04 455.03 532.30 456.70 531.62C458.37 530.93 460.03 530.29 461.70 529.72C463.37 529.14 465.03 528.63 466.70 528.19C468.37 527.76 470.03 527.39 471.70 527.12C473.37 526.84 475.03 526.64 476.70 526.54C478.37 526.44 480.03 526.42 481.70 526.50C483.37 526.57 485.03 526.73 486.70 526.98C488.37 527.23 490.03 527.56 491.70 527.96C493.37 528.37 495.03 528.85 496.70 529.40C498.37 529.95 500.03 530.56 501.70 531.23C503.37 531.89 505.03 532.61 506.70 533.36C508.37 534.12 510.03 534.91 511.70 535.73C513.37 536.55 515.03 537.39 516.70 538.24C518.37 539.10 520.03 539.97 521.70 540.84C523.37 541.71 525.03 542.59 526.70 543.45C528.37 544.32 530.03 545.18 531.70 546.03C533.37 546.88 535.03 547.72 536.70 548.54C538.37 549.35 540.03 550.15 541.70 550.93C543.37 551.71 545.03 552.47 546.70 553.21C548.37 553.94 550.03 554.65 551.70 555.34C553.37 556.03 555.03 556.70 556.70 557.34C558.37 557.99 560.03 558.61 561.70 559.20C563.37 559.80 565.03 560.37 566.70 560.93C568.37 561.48 570.03 562.01 571.70 562.53C573.37 563.04 575.03 563.53 576.70 564.00C578.37 564.48 580.03 564.93 581.70 565.37C583.37 565.81 585.03 566.23 586.70 566.63C588.37 567.03 590.03 567.42 591.70 567.79C593.37 568.17 595.03 568.52 596.70 568.87C598.37 569.21 600.03 569.54 601.70 569.85C603.37 570.17 605.03 570.47 606.70 570.76C608.37 571.05 610.03 571.33 611.70 571.59C613.37 571.86 615.03 572.11 616.70 572.35C618.37 572.59 620.03 572.82 621.70 573.04C623.37 573.26 625.03 573.47 626.70 573.67C628.37 573.87 630.03 574.06 631.70 574.24C633.37 574.42 635.03 574.59 636.70 574.75C638.37 574.92 640.03 575.07 641.70 575.21C643.37 575.36 645.03 575.50 646.70 575.63C648.37 575.76 650.03 575.88 651.70 575.99C653.37 576.11 655.03 576.22 656.70 576.32C658.37 576.42 660.03 576.52 661.70 576.61C663.37 576.70 665.03 576.78 666.70 576.86C668.37 576.94 670.03 577.01 671.70 577.08C673.37 577.15 675.03 577.21 676.70 577.27C678.37 577.33 680.03 577.39 681.70 577.44C683.37 577.49 685.03 577.54 686.70 577.59C688.37 577.63 690.03 577.67 691.70 577.71C692.23 577.72 692.77 577.73 693.30 577.75"/>
<path stroke="#00B050" d="M117.70 578.34C119.37 578.40 121.03 578.40 122.70 578.40C124.37 578.40 126.03 578.40 127.70 578.40C129.37 578.40 131.03 578.40 132.70 578.40C134.37 578.40 136.03 578.40 137.70 578.39C139.37 578.39 141.03 578.37 142.70 578.33C144.37 578.29 146.03 578.22 147.70 578.03C149.37 577.85 151.03 577.57 152.70 576.96C154.37 576.36 156.03 575.46 157.70 573.67C158.53 572.78 159.37 571.65 160.20 570.15C161.03 568.66 161.87 566.80 162.70 564.40C163.20 562.97 163.70 561.34 164.20 559.48C164.70 557.62 165.20 555.53 165.70 553.18C166.20 550.82 166.70 548.20 167.20 545.28C167.70 542.37 168.20 539.15 168.70 535.61C169.20 532.08 169.70 528.22 170.20 524.03C170.70 519.84 171.20 515.32 171.70 510.45C172.20 505.59 172.70 500.39 173.20 494.85C173.70 489.32 174.20 483.45 174.70 477.26C175.20 471.07 175.70 464.56 176.20 457.76C176.70 450.95 177.20 443.84 177.70 436.45C178.20 429.07 178.70 421.40 179.20 413.50C179.70 405.59 180.20 397.43 180.70 389.07C181.20 380.70 181.70 372.13 182.20 363.38C182.70 354.64 183.20 345.72 183.70 336.69C184.20 327.66 184.70 318.51 185.20 309.31C185.70 300.11 186.20 290.85 186.70 281.61C187.20 272.38 187.70 263.16 188.20 254.05C188.70 244.93 189.20 235.93 189.70 227.11C190.20 218.30 190.70 209.68 191.20 201.35C191.70 193.01 192.20 184.97 192.70 177.29C193.20 169.62 193.70 162.31 194.20 155.45C194.70 148.59 195.20 142.17 195.70 136.25C196.20 130.33 196.70 124.91 197.20 120.01C197.70 115.11 198.20 110.74 198.70 106.91C199.20 103.07 199.70 99.77 200.20 96.99C200.70 94.20 201.20 91.94 201.70 90.15C202.20 88.36 202.70 87.05 203.20 86.18C204.03 84.72 204.87 84.45 205.70 85.12C207.37 86.46 209.03 91.43 210.70 98.46C211.20 100.57 211.70 102.88 212.20 105.36C212.70 107.84 213.20 110.50 213.70 113.34C214.20 116.17 214.70 119.18 215.20 122.36C215.70 125.54 216.20 128.89 216.70 132.43C217.20 135.96 217.70 139.68 218.20 143.58C218.70 147.48 219.20 151.57 219.70 155.84C220.20 160.12 220.70 164.58 221.20 169.22C221.70 173.87 222.20 178.70 222.70 183.70C223.20 188.70 223.70 193.87 224.20 199.19C224.70 204.52 225.20 209.99 225.70 215.58C226.20 221.17 226.70 226.88 227.20 232.67C227.70 238.46 228.20 244.34 228.70 250.26C229.20 256.18 229.70 262.14 230.20 268.11C230.70 274.08 231.20 280.04 231.70 285.97C232.20 291.90 232.70 297.79 233.20 303.60C233.70 309.42 234.20 315.15 234.70 320.78C235.20 326.41 235.70 331.94 236.20 337.33C236.70 342.72 237.20 347.98 237.70 353.09C238.20 358.21 238.70 363.17 239.20 367.98C239.70 372.79 240.20 377.44 240.70 381.93C241.20 386.42 241.70 390.75 242.20 394.93C242.70 399.11 243.20 403.13 243.70 407.01C244.20 410.88 244.70 414.61 245.20 418.21C245.70 421.81 246.20 425.27 246.70 428.61C247.20 431.96 247.70 435.18 248.20 438.30C248.70 441.42 249.20 444.43 249.70 447.35C250.20 450.27 250.70 453.10 251.20 455.85C251.70 458.60 252.20 461.26 252.70 463.86C253.20 466.47 253.70 469.00 254.20 471.47C254.70 473.93 255.20 476.34 255.70 478.69C256.20 481.05 256.70 483.34 257.20 485.59C257.70 487.83 258.20 490.02 258.70 492.16C259.20 494.30 259.70 496.39 260.20 498.43C260.70 500.47 261.20 502.45 261.70 504.39C262.20 506.32 262.70 508.21 263.20 510.04C263.70 511.87 264.20 513.65 264.70 515.37C265.20 517.10 265.70 518.76 266.20 520.38C266.70 521.99 267.20 523.55 267.70 525.05C268.20 526.55 268.70 528.00 269.20 529.39C269.70 530.78 270.20 532.11 270.70 533.39C271.20 534.67 271.70 535.89 272.20 537.06C273.03 539.00 273.87 540.80 274.70 542.46C275.53 544.11 276.37 545.62 277.20 547.01C278.03 548.40 278.87 549.66 279.70 550.81C280.53 551.96 281.37 552.99 282.20 553.93C283.03 554.88 283.87 555.72 284.70 556.49C285.53 557.25 286.37 557.93 287.20 558.54C288.87 559.77 290.53 560.72 292.20 561.47C293.87 562.22 295.53 562.76 297.20 563.16C298.87 563.55 300.53 563.78 302.20 563.90C303.87 564.02 305.53 564.01 307.20 563.93C308.87 563.85 310.53 563.68 312.20 563.47C313.87 563.26 315.53 563.00 317.20 562.72C318.87 562.45 320.53 562.16 322.20 561.87C323.87 561.57 325.53 561.29 327.20 561.01C328.87 560.73 330.53 560.46 332.20 560.21C333.87 559.96 335.53 559.72 337.20 559.49C338.87 559.27 340.53 559.06 342.20 558.87C343.87 558.68 345.53 558.51 347.20 558.36C348.87 558.22 350.53 558.09 352.20 558.00C353.87 557.91 355.53 557.85 357.20 557.81C358.87 557.78 360.53 557.78 362.20 557.81C363.87 557.84 365.53 557.89 367.20 557.96C368.87 558.03 370.53 558.12 372.20 558.20C373.87 558.29 375.53 558.37 377.20 558.44C378.87 558.50 380.53 558.55 382.20 558.56C383.87 558.57 385.53 558.55 387.20 558.48C388.87 558.41 390.53 558.30 392.20 558.13C393.87 557.96 395.53 557.73 397.20 557.45C398.87 557.18 400.53 556.84 402.20 556.46C403.87 556.08 405.53 555.65 407.20 555.17C408.87 554.69 410.53 554.17 412.20 553.61C413.87 553.06 415.53 552.46 417.20 551.84C418.87 551.22 420.53 550.57 422.20 549.89C423.87 549.22 425.53 548.52 427.20 547.81C428.87 547.10 430.53 546.37 432.20 545.63C433.87 544.89 435.53 544.15 437.20 543.40C438.87 542.65 440.53 541.90 442.20 541.16C443.87 540.42 445.53 539.68 447.20 538.96C448.87 538.25 450.53 537.55 452.20 536.88C453.87 536.21 455.53 535.58 457.20 534.99C458.87 534.39 460.53 533.84 462.20 533.35C463.87 532.86 465.53 532.42 467.20 532.05C468.87 531.68 470.53 531.38 472.20 531.15C473.87 530.92 475.53 530.77 477.20 530.69C478.87 530.62 480.53 530.62 482.20 530.71C483.87 530.79 485.53 530.95 487.20 531.19C488.87 531.44 490.53 531.75 492.20 532.14C493.87 532.53 495.53 532.99 497.20 533.51C498.87 534.03 500.53 534.61 502.20 535.23C503.87 535.86 505.53 536.54 507.20 537.26C508.87 537.98 510.53 538.73 512.20 539.51C513.87 540.29 515.53 541.09 517.20 541.91C518.87 542.73 520.53 543.56 522.20 544.40C523.87 545.23 525.53 546.07 527.20 546.90C528.87 547.73 530.53 548.56 532.20 549.37C533.87 550.19 535.53 550.99 537.20 551.77C538.87 552.56 540.53 553.32 542.20 554.06C543.87 554.81 545.53 555.53 547.20 556.22C548.87 556.92 550.53 557.60 552.20 558.24C553.87 558.89 555.53 559.52 557.20 560.12C558.87 560.71 560.53 561.29 562.20 561.84C563.87 562.39 565.53 562.92 567.20 563.42C568.87 563.92 570.53 564.40 572.20 564.86C573.87 565.32 575.53 565.76 577.20 566.18C578.87 566.60 580.53 567.00 582.20 567.38C583.87 567.76 585.53 568.13 587.20 568.48C588.87 568.82 590.53 569.16 592.20 569.47C593.87 569.79 595.53 570.09 597.20 570.38C598.87 570.67 600.53 570.95 602.20 571.21C603.87 571.47 605.53 571.72 607.20 571.96C608.87 572.20 610.53 572.43 612.20 572.65C613.87 572.87 615.53 573.08 617.20 573.28C618.87 573.48 620.53 573.67 622.20 573.85C623.87 574.03 625.53 574.20 627.20 574.36C628.87 574.53 630.53 574.68 632.20 574.83C633.87 574.98 635.53 575.12 637.20 575.25C638.87 575.38 640.53 575.51 642.20 575.63C643.87 575.75 645.53 575.86 647.20 575.97C648.87 576.08 650.53 576.18 652.20 576.28C653.87 576.37 655.53 576.46 657.20 576.55C658.87 576.63 660.53 576.71 662.20 576.79C663.87 576.86 665.53 576.94 667.20 577.00C668.87 577.07 670.53 577.13 672.20 577.19C673.87 577.25 675.53 577.30 677.20 577.35C678.87 577.41 680.53 577.45 682.20 577.50C683.87 577.54 685.53 577.58 687.20 577.62C688.87 577.66 690.53 577.70 692.20 577.73C693.87 577.76 695.53 577.79 697.20 577.82C698.87 577.85 700.53 577.88 702.20 577.90C703.87 577.93 705.53 577.95 707.20 577.97C708.87 577.99 710.53 578.01 712.20 578.03C713.87 578.04 715.53 578.06 717.20 578.07C718.87 578.09 720.53 578.10 722.20 578.11C723.87 578.13 725.53 578.14 727.20 578.15C728.87 578.16 730.53 578.17 732.20 578.18C733.87 578.18 735.53 578.19 737.20 578.20C738.87 578.21 740.53 578.21 742.20 578.22C743.87 578.22 745.53 578.23 747.20 578.23C748.87 578.24 750.53 578.24 752.20 578.24C753.87 578.25 755.53 578.25 757.20 578.25C758.87 578.26 760.53 578.26 762.20 578.26C763.87 578.26 765.53 578.26 767.20 578.27C768.87 578.27 770.53 578.27 772.20 578.27C772.93 578.27 773.67 578.27 774.40 578.27"/>
<path stroke="#7030A0" d="M117.70 578.34C119.37 578.40 121.03 578.40 122.70 578.40C124.37 578.40 126.03 578.40 127.70 578.40C129.37 578.40 131.03 578.40 132.70 578.40C134.37 578.40 136.03 578.40 137.70 578.40C139.37 578.39 141.03 578.39 142.70 578.37C144.37 578.35 146.03 578.31 147.70 578.21C149.37 578.11 151.03 577.95 152.70 577.63C154.37 577.31 156.03 576.84 157.70 575.95C159.37 575.07 161.03 573.78 162.70 571.26C163.53 570.00 164.37 568.42 165.20 566.34C165.70 565.09 166.20 563.66 166.70 562.00C167.20 560.35 167.70 558.47 168.20 556.32C168.70 554.17 169.20 551.75 169.70 549.02C170.20 546.29 170.70 543.24 171.20 539.86C171.70 536.47 172.20 532.74 172.70 528.64C173.20 524.54 173.70 520.07 174.20 515.23C174.70 510.38 175.20 505.16 175.70 499.57C176.20 493.99 176.70 488.03 177.20 481.73C177.70 475.43 178.20 468.79 178.70 461.83C179.20 454.88 179.70 447.62 180.20 440.10C180.70 432.59 181.20 424.81 181.70 416.83C182.20 408.86 182.70 400.68 183.20 392.36C183.70 384.04 184.20 375.58 184.70 367.04C185.20 358.51 185.70 349.90 186.20 341.27C186.70 332.65 187.20 324.02 187.70 315.44C188.20 306.86 188.70 298.33 189.20 289.92C189.70 281.51 190.20 273.22 190.70 265.11C191.20 257.00 191.70 249.07 192.20 241.38C192.70 233.69 193.20 226.25 193.70 219.10C194.20 211.96 194.70 205.12 195.20 198.64C195.70 192.16 196.20 186.04 196.70 180.32C197.20 174.60 197.70 169.28 198.20 164.41C198.70 159.53 199.20 155.10 199.70 151.14C200.20 147.17 200.70 143.67 201.20 140.65C201.70 137.63 202.20 135.08 202.70 133.01C203.20 130.93 203.70 129.33 204.20 128.18C205.03 126.26 205.87 125.60 206.70 126.05C208.37 126.94 210.03 132.24 211.70 140.18C212.20 142.56 212.70 145.18 213.20 147.99C213.70 150.80 214.20 153.80 214.70 156.95C215.20 160.09 215.70 163.39 216.20 166.79C216.70 170.20 217.20 173.71 217.70 177.30C218.20 180.89 218.70 184.56 219.20 188.28C219.70 191.99 220.20 195.76 220.70 199.55C221.20 203.34 221.70 207.16 222.20 210.98C222.70 214.80 223.20 218.63 223.70 222.44C224.20 226.26 224.70 230.06 225.20 233.84C225.70 237.62 226.20 241.38 226.70 245.11C227.20 248.83 227.70 252.52 228.20 256.17C228.70 259.83 229.20 263.44 229.70 267.01C230.20 270.58 230.70 274.12 231.20 277.60C231.70 281.09 232.20 284.54 232.70 287.95C233.20 291.36 233.70 294.73 234.20 298.07C234.70 301.40 235.20 304.71 235.70 307.98C236.20 311.26 236.70 314.51 237.20 317.73C237.70 320.96 238.20 324.16 238.70 327.35C239.20 330.53 239.70 333.71 240.20 336.87C240.70 340.03 241.20 343.17 241.70 346.31C242.20 349.45 242.70 352.58 243.20 355.70C243.70 358.83 244.20 361.94 244.70 365.04C245.20 368.15 245.70 371.24 246.20 374.32C246.70 377.40 247.20 380.46 247.70 383.51C248.20 386.55 248.70 389.58 249.20 392.58C249.70 395.58 250.20 398.55 250.70 401.49C251.20 404.44 251.70 407.34 252.20 410.21C252.70 413.08 253.20 415.91 253.70 418.70C254.20 421.48 254.70 424.22 255.20 426.91C255.70 429.59 256.20 432.23 256.70 434.81C257.20 437.39 257.70 439.92 258.20 442.39C258.70 444.86 259.20 447.28 259.70 449.64C260.20 451.99 260.70 454.30 261.20 456.54C261.70 458.79 262.20 460.98 262.70 463.12C263.20 465.26 263.70 467.34 264.20 469.38C264.70 471.41 265.20 473.40 265.70 475.34C266.20 477.28 266.70 479.18 267.20 481.03C267.70 482.88 268.20 484.70 268.70 486.47C269.20 488.25 269.70 489.99 270.20 491.69C270.70 493.40 271.20 495.07 271.70 496.71C272.20 498.35 272.70 499.96 273.20 501.54C273.70 503.13 274.20 504.68 274.70 506.21C275.20 507.74 275.70 509.24 276.20 510.72C276.70 512.19 277.20 513.64 277.70 515.07C278.20 516.49 278.70 517.89 279.20 519.26C279.70 520.63 280.20 521.98 280.70 523.30C281.20 524.62 281.70 525.91 282.20 527.18C282.70 528.44 283.20 529.68 283.70 530.88C284.53 532.89 285.37 534.82 286.20 536.66C287.03 538.49 287.87 540.24 288.70 541.90C289.53 543.56 290.37 545.12 291.20 546.59C292.03 548.06 292.87 549.44 293.70 550.72C294.53 552.01 295.37 553.20 296.20 554.31C297.03 555.41 297.87 556.43 298.70 557.37C299.53 558.31 300.37 559.17 301.20 559.97C302.03 560.76 302.87 561.48 303.70 562.14C305.37 563.47 307.03 564.56 308.70 565.49C310.37 566.42 312.03 567.18 313.70 567.85C315.37 568.52 317.03 569.09 318.70 569.60C320.37 570.11 322.03 570.55 323.70 570.95C325.37 571.35 327.03 571.70 328.70 572.02C330.37 572.34 332.03 572.62 333.70 572.87C335.37 573.12 337.03 573.34 338.70 573.53C340.37 573.72 342.03 573.89 343.70 574.03C345.37 574.17 347.03 574.29 348.70 574.38C350.37 574.48 352.03 574.56 353.70 574.63C355.37 574.69 357.03 574.74 358.70 574.78C360.37 574.81 362.03 574.83 363.70 574.83C365.37 574.82 367.03 574.80 368.70 574.76C370.37 574.72 372.03 574.65 373.70 574.55C375.37 574.44 377.03 574.31 378.70 574.14C380.37 573.97 382.03 573.76 383.70 573.51C385.37 573.26 387.03 572.97 388.70 572.62C390.37 572.28 392.03 571.89 393.70 571.46C395.37 571.02 397.03 570.54 398.70 570.02C400.37 569.49 402.03 568.92 403.70 568.31C405.37 567.70 407.03 567.05 408.70 566.36C410.37 565.68 412.03 564.96 413.70 564.22C415.37 563.47 417.03 562.70 418.70 561.92C420.37 561.13 422.03 560.33 423.70 559.52C425.37 558.71 427.03 557.89 428.70 557.07C430.37 556.26 432.03 555.44 433.70 554.64C435.37 553.84 437.03 553.05 438.70 552.28C440.37 551.52 442.03 550.77 443.70 550.06C445.37 549.35 447.03 548.66 448.70 548.02C450.37 547.38 452.03 546.78 453.70 546.23C455.37 545.68 457.03 545.18 458.70 544.73C460.37 544.28 462.03 543.88 463.70 543.55C465.37 543.21 467.03 542.93 468.70 542.72C470.37 542.50 472.03 542.34 473.70 542.25C475.37 542.15 477.03 542.12 478.70 542.15C480.37 542.17 482.03 542.26 483.70 542.40C485.37 542.54 487.03 542.73 488.70 542.98C490.37 543.22 492.03 543.52 493.70 543.86C495.37 544.19 497.03 544.58 498.70 545.00C500.37 545.42 502.03 545.87 503.70 546.36C505.37 546.84 507.03 547.36 508.70 547.89C510.37 548.43 512.03 548.99 513.70 549.57C515.37 550.14 517.03 550.73 518.70 551.33C520.37 551.93 522.03 552.54 523.70 553.15C525.37 553.76 527.03 554.37 528.70 554.99C530.37 555.60 532.03 556.21 533.70 556.82C535.37 557.42 537.03 558.02 538.70 558.62C540.37 559.21 542.03 559.79 543.70 560.36C545.37 560.93 547.03 561.49 548.70 562.04C550.37 562.58 552.03 563.12 553.70 563.63C555.37 564.15 557.03 564.65 558.70 565.14C560.37 565.62 562.03 566.09 563.70 566.55C565.37 567.00 567.03 567.44 568.70 567.86C570.37 568.28 572.03 568.68 573.70 569.06C575.37 569.45 577.03 569.82 578.70 570.17C580.37 570.52 582.03 570.86 583.70 571.18C585.37 571.50 587.03 571.80 588.70 572.09C590.37 572.38 592.03 572.65 593.70 572.91C595.37 573.17 597.03 573.42 598.70 573.65C600.37 573.88 602.03 574.10 603.70 574.30C605.37 574.51 607.03 574.70 608.70 574.88C610.37 575.06 612.03 575.23 613.70 575.39C615.37 575.55 617.03 575.70 618.70 575.83C620.37 575.97 622.03 576.10 623.70 576.22C625.37 576.34 627.03 576.46 628.70 576.56C630.37 576.66 632.03 576.76 633.70 576.85C635.37 576.94 637.03 577.02 638.70 577.10C640.37 577.17 642.03 577.25 643.70 577.31C645.37 577.38 647.03 577.44 648.70 577.49C650.37 577.55 652.03 577.60 653.70 577.65C655.37 577.69 657.03 577.74 658.70 577.77C660.37 577.81 662.03 577.85 663.70 577.88C665.37 577.92 667.03 577.95 668.70 577.97C670.37 578.00 672.03 578.03 673.70 578.05C675.37 578.07 677.03 578.09 678.70 578.11C680.37 578.13 682.03 578.15 683.70 578.17C685.37 578.18 687.03 578.20 688.70 578.21C690.23 578.22 691.77 578.23 693.30 578.24"/>
</g>
<g font-family="'Liberation Serif', 'Times New Roman', serif" font-weight="bold" font-size="22.2px" fill="#000000">
<line x1="922.8" y1="34.60" x2="970.1" y2="34.60" stroke="#C00000" stroke-width="3.7" stroke-linecap="round"/>
<text x="974.8" y="41.70">1</text>
<line x1="922.8" y1="76.75" x2="970.1" y2="76.75" stroke="#FF0000" stroke-width="3.7" stroke-linecap="round"/>
<text x="974.8" y="83.85">2</text>
<line x1="922.8" y1="118.90" x2="970.1" y2="118.90" stroke="#FFC000" stroke-width="3.7" stroke-linecap="round"/>
<text x="974.8" y="126.00">3</text>
<line x1="922.8" y1="161.05" x2="970.1" y2="161.05" stroke="#0070C0" stroke-width="3.7" stroke-linecap="round"/>
<text x="974.8" y="168.15">23</text>
<line x1="922.8" y1="203.20" x2="970.1" y2="203.20" stroke="#00B050" stroke-width="3.7" stroke-linecap="round"/>
<text x="974.8" y="210.30">24</text>
<line x1="922.8" y1="245.35" x2="970.1" y2="245.35" stroke="#7030A0" stroke-width="3.7" stroke-linecap="round"/>
<text x="974.8" y="252.45">25</text>
</g>
<text x="442.1" y="665.6" textLength="166.4" lengthAdjust="spacingAndGlyphs" font-family="'Liberation Serif', 'Times New Roman', serif" font-weight="bold" font-size="24.2px" fill="#000000">Wavelength/nm</text>
<text transform="translate(17.6 350.0) rotate(-90)" textLength="114.2" lengthAdjust="spacingAndGlyphs" font-family="'Liberation Serif', 'Times New Roman', serif" font-weight="bold" font-size="24.2px" fill="#000000">Epsilon (ε)</text>
</svg>
</body>
</html>
